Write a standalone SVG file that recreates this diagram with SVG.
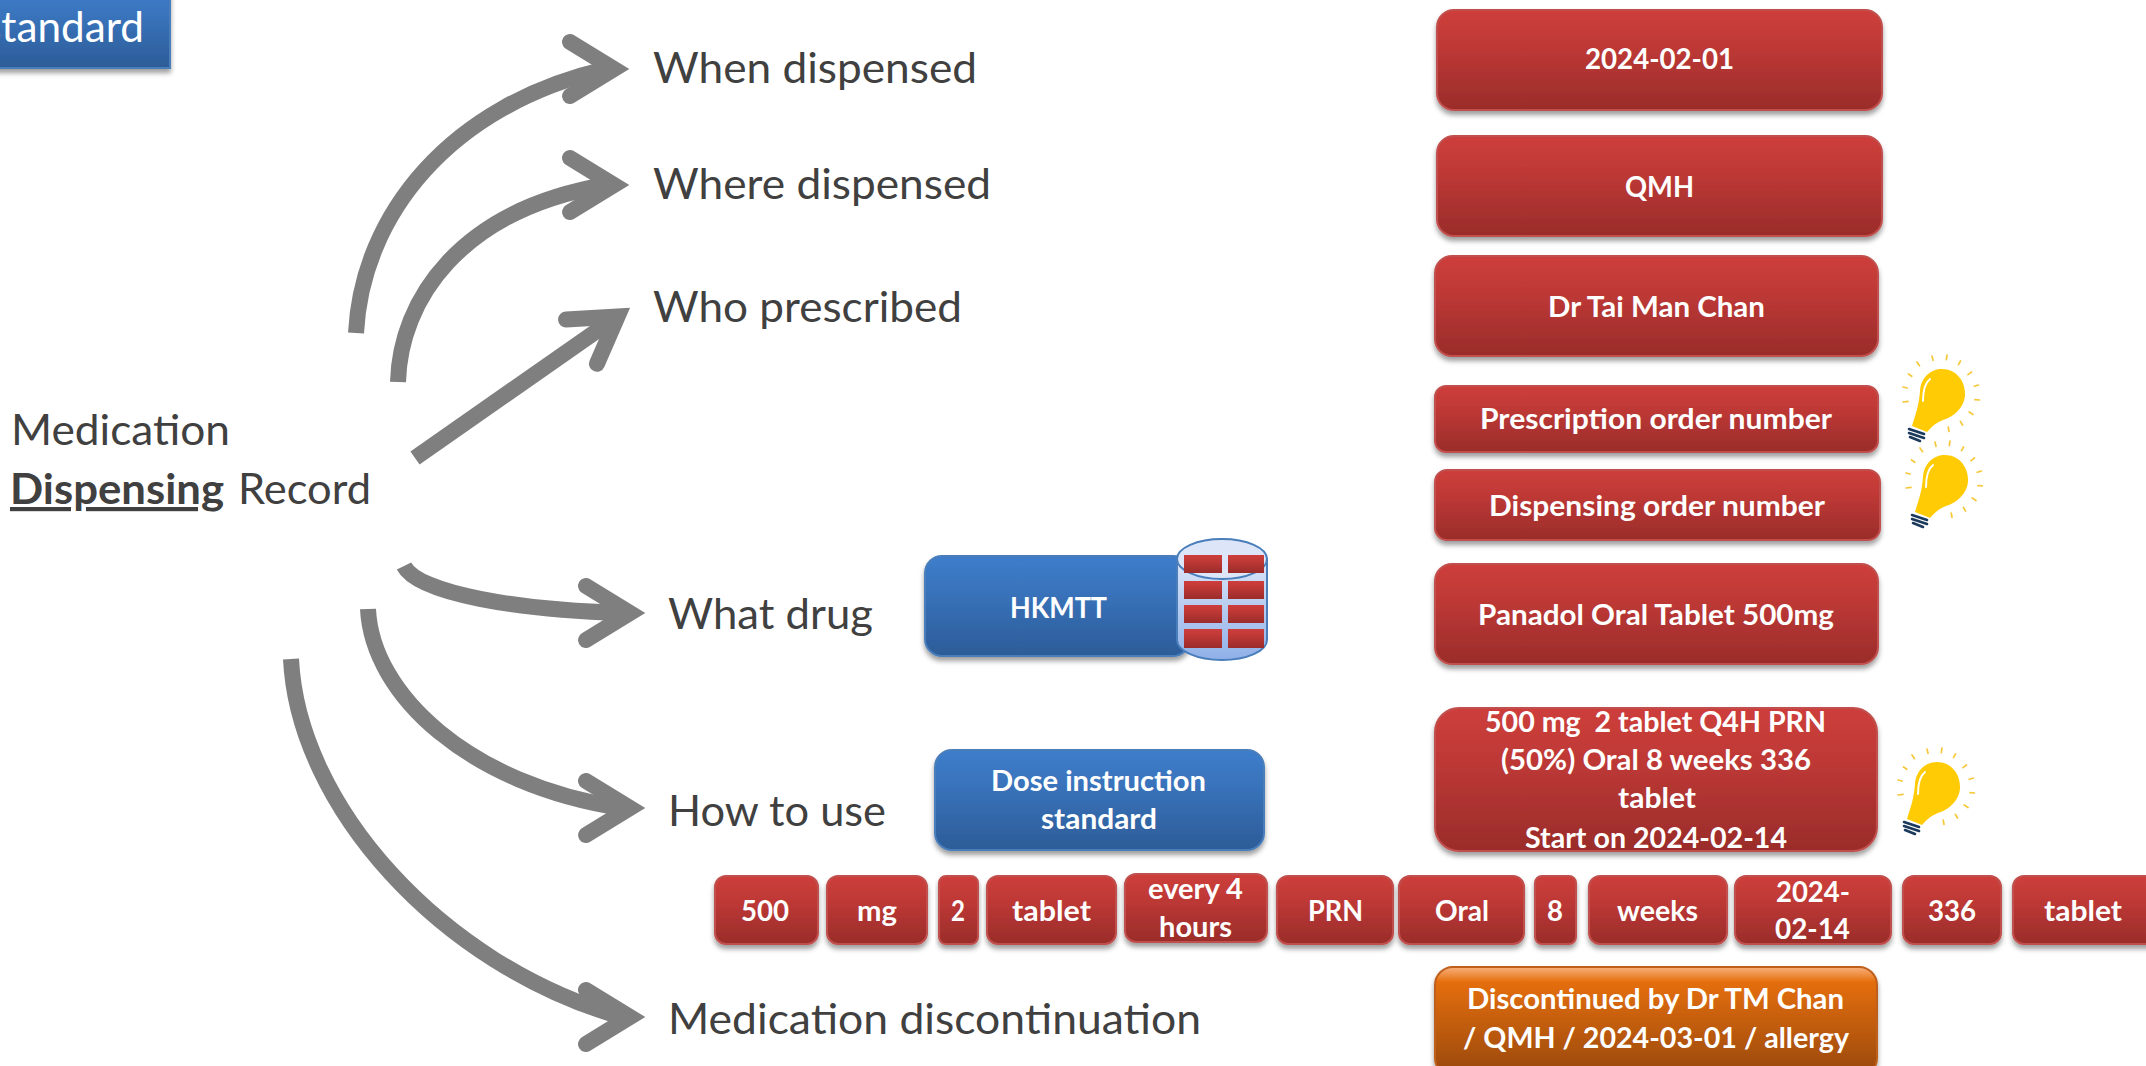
<svg xmlns="http://www.w3.org/2000/svg" xmlns:xlink="http://www.w3.org/1999/xlink" width="2146" height="1066" viewBox="0 0 2146 1066">
<style>
text{font-family:Lato,"Liberation Sans",sans-serif}
.l{font-size:42px;fill:#404040}
.b{font-size:28px;font-weight:700;fill:#fff}
.c{fill:none;stroke:#7f7f7f;stroke-width:16}
.red{fill:url(#gr);stroke:#c0504d;stroke-width:2;filter:url(#sh)}
.blue{fill:url(#gb);stroke:#4a7ebb;stroke-width:2;filter:url(#sh)}
.or{fill:url(#go);stroke:#be5f1c;stroke-width:2;filter:url(#sh)}
.brick{fill:url(#gr)}
</style>
<defs>
<linearGradient id="gr" x1="0" y1="0" x2="0" y2="1"><stop offset="0" stop-color="#cd3e3b"/><stop offset=".35" stop-color="#bf3936"/><stop offset="1" stop-color="#9a2c2a"/></linearGradient>
<linearGradient id="gb" x1="0" y1="0" x2="0" y2="1"><stop offset="0" stop-color="#3d7dcb"/><stop offset=".35" stop-color="#3973bb"/><stop offset="1" stop-color="#2c5c98"/></linearGradient>
<linearGradient id="go" x1="0" y1="0" x2="0" y2="1"><stop offset="0" stop-color="#f8b07c"/><stop offset=".14" stop-color="#e46e0a"/><stop offset="1" stop-color="#984807"/></linearGradient>
<linearGradient id="gc" x1="0" y1="0" x2="0" y2="1"><stop offset="0" stop-color="#dce6f8"/><stop offset="1" stop-color="#8fb0e8"/></linearGradient>
<filter id="sh" x="-10%" y="-10%" width="120%" height="130%"><feDropShadow dx="0" dy="4" stdDeviation="2.5" flood-color="#000" flood-opacity=".38"/></filter>
<marker id="ah" markerUnits="userSpaceOnUse" markerWidth="100" markerHeight="100" viewBox="-85 -50 100 100" refX="-24" refY="0" orient="0"><path d="M-60,-27L-16,0L-60,27" fill="none" stroke="#7f7f7f" stroke-width="16" stroke-linecap="round" stroke-miterlimit="10"/></marker>
<marker id="as" markerUnits="userSpaceOnUse" markerWidth="100" markerHeight="100" viewBox="-85 -50 100 100" refX="-24" refY="0" orient="auto"><path d="M-60,-27L-16,0L-60,27" fill="none" stroke="#7f7f7f" stroke-width="16" stroke-linecap="round" stroke-miterlimit="10"/></marker>
<g id="bulb">
<path d="M-30,28C-26,15-23,7-22,-7C-21,-21-11,-29 0,-29C14,-29 24,-17 23,-2C22,9 12,19 1,22C-5,24-10,28-15,34Z" fill="#ffcb05"/>
<path d="M-12,-19C-17,-15-19,-5-19,3" fill="none" stroke="#fff" stroke-width="2" stroke-linecap="round"/>
<path d="M-33,31L-18,36M-33,35L-18,40M-32,39L-22,43" fill="none" stroke="#1c3a5c" stroke-width="2.6" stroke-linecap="round"/>
<path d="M-22.500,-32.300L-25,-36M-9,-37.700L-10,-42M4.300,-38.300L5,-43M16.500,-33.300L18.500,-37M26,-23.300L29.500,-26M32.200,-11.700L36.500,-13M33,1.700L37.500,2M27.200,14L31,16.500M18.400,23.300L20.500,27M6.200,29L7,33.500M-30.200,-21.700L-33.500,-24M-34.800,-10L-39,-11M-34,3.300L-39,4" fill="none" stroke="#f6c83c" stroke-width="1.7" stroke-linecap="round"/>
</g>
</defs>
<rect width="2146" height="1066" fill="#fff"/>
<g id="connectors">
<path class="c" d="M356,333C362,215 450,105 606,69" marker-end="url(#ah)"/>
<path class="c" d="M398,382C400,300 460,210 606,185" marker-end="url(#ah)"/>
<path class="c" d="M415,458L611,321" marker-end="url(#as)"/>
<path class="c" d="M404,566C418,594 520,610 622,613" marker-end="url(#ah)"/>
<path class="c" d="M368,609C372,695 470,785 622,808" marker-end="url(#ah)"/>
<path class="c" d="M291,659C298,805 440,965 622,1017" marker-end="url(#ah)"/>
</g>
<g id="standard"><rect class="blue" x="-12" y="-12" width="182" height="80"/><text x="-17" y="42" font-size="42" fill="#fff" textLength="161" lengthAdjust="spacingAndGlyphs">standard</text></g>
<g id="subject"><text class="l" x="11" y="445" textLength="219" lengthAdjust="spacingAndGlyphs">Medication</text><text class="l" x="10" y="504" font-weight="700" text-decoration="underline" textLength="214" lengthAdjust="spacingAndGlyphs">Dispensing</text><text class="l" x="238" y="504" textLength="133" lengthAdjust="spacingAndGlyphs">Record</text></g>
<g id="label-when"><text class="l" x="653" y="83" textLength="324" lengthAdjust="spacingAndGlyphs">When dispensed</text></g>
<g id="label-where"><text class="l" x="653" y="199" textLength="338" lengthAdjust="spacingAndGlyphs">Where dispensed</text></g>
<g id="label-who"><text class="l" x="653" y="322" textLength="309" lengthAdjust="spacingAndGlyphs">Who prescribed</text></g>
<g id="label-what"><text class="l" x="668" y="629" textLength="205" lengthAdjust="spacingAndGlyphs">What drug</text></g>
<g id="label-how"><text class="l" x="668" y="826" textLength="218" lengthAdjust="spacingAndGlyphs">How to use</text></g>
<g id="label-disc"><text class="l" x="668" y="1034" textLength="533" lengthAdjust="spacingAndGlyphs">Medication discontinuation</text></g>

<g id="hkmtt"><rect class="blue" x="925" y="556" width="265" height="100" rx="17"/><text class="b" x="1010" y="618" textLength="97" lengthAdjust="spacingAndGlyphs">HKMTT</text>
<path d="M1177,559V640A45,20 0 0 0 1267,640V559Z" fill="url(#gc)" stroke="#4a7ebb" stroke-width="2"/><ellipse cx="1222" cy="559" rx="45" ry="20" fill="#dce6f8" stroke="#4a7ebb" stroke-width="2"/>
<rect class="brick" x="1184" y="555" width="38" height="18"/><rect class="brick" x="1228" y="555" width="36" height="18"/><rect class="brick" x="1184" y="581" width="38" height="18"/><rect class="brick" x="1228" y="581" width="36" height="18"/><rect class="brick" x="1184" y="605" width="38" height="18"/><rect class="brick" x="1228" y="605" width="36" height="18"/><rect class="brick" x="1184" y="629" width="38" height="19"/><rect class="brick" x="1228" y="629" width="36" height="19"/></g>
<g id="dose"><rect class="blue" x="935" y="750" width="329" height="100" rx="17"/><text class="b" x="991" y="791" textLength="215" lengthAdjust="spacingAndGlyphs">Dose instruction</text><text class="b" x="1041" y="829" textLength="116" lengthAdjust="spacingAndGlyphs">standard</text></g>

<g id="date"><rect class="red" x="1437" y="10" width="445" height="100" rx="17"/><text class="b" x="1585" y="69" textLength="149" lengthAdjust="spacingAndGlyphs">2024-02-01</text></g>
<g id="qmh"><rect class="red" x="1437" y="136" width="445" height="100" rx="17"/><text class="b" x="1625" y="197" textLength="69" lengthAdjust="spacingAndGlyphs">QMH</text></g>
<g id="doctor"><rect class="red" x="1435" y="256" width="443" height="100" rx="17"/><text class="b" x="1548" y="317" textLength="217" lengthAdjust="spacingAndGlyphs">Dr Tai Man Chan</text></g>
<g id="rx-number"><rect class="red" x="1435" y="386" width="443" height="66" rx="11"/><text class="b" x="1480" y="429" textLength="352" lengthAdjust="spacingAndGlyphs">Prescription order number</text></g>
<g id="disp-number"><rect class="red" x="1435" y="470" width="445" height="70" rx="12"/><text class="b" x="1489" y="516" textLength="336" lengthAdjust="spacingAndGlyphs">Dispensing order number</text></g>
<g id="drug"><rect class="red" x="1435" y="564" width="443" height="100" rx="17"/><text class="b" x="1478" y="625" textLength="356" lengthAdjust="spacingAndGlyphs">Panadol Oral Tablet 500mg</text></g>
<g id="instruction"><rect class="red" x="1435" y="708" width="442" height="143" rx="24"/><text class="b" x="1485" y="732" textLength="341" lengthAdjust="spacingAndGlyphs" xml:space="preserve">500 mg  2 tablet Q4H PRN</text><text class="b" x="1501" y="770" textLength="310" lengthAdjust="spacingAndGlyphs">(50%) Oral 8 weeks 336</text><text class="b" x="1618" y="808" textLength="78" lengthAdjust="spacingAndGlyphs">tablet</text><text class="b" x="1525" y="848" textLength="262" lengthAdjust="spacingAndGlyphs">Start on 2024-02-14</text></g>

<g id="t-500"><rect class="red" x="715" y="876" width="103" height="68" rx="11"/><text class="b" x="741" y="921" textLength="48" lengthAdjust="spacingAndGlyphs">500</text></g>
<g id="t-mg"><rect class="red" x="827" y="876" width="100" height="68" rx="11"/><text class="b" x="857" y="921" textLength="40" lengthAdjust="spacingAndGlyphs">mg</text></g>
<g id="t-2"><rect class="red" x="939" y="876" width="39" height="68" rx="7"/><text class="b" x="951" y="921" textLength="14" lengthAdjust="spacingAndGlyphs">2</text></g>
<g id="t-tablet"><rect class="red" x="987" y="876" width="129" height="68" rx="11"/><text class="b" x="1012" y="921" textLength="79" lengthAdjust="spacingAndGlyphs">tablet</text></g>
<g id="t-every"><rect class="red" x="1125" y="874" width="142" height="68" rx="11"/><text class="b" x="1148" y="899" textLength="95" lengthAdjust="spacingAndGlyphs">every 4</text><text class="b" x="1159" y="937" textLength="73" lengthAdjust="spacingAndGlyphs">hours</text></g>
<g id="t-prn"><rect class="red" x="1277" y="876" width="116" height="68" rx="11"/><text class="b" x="1308" y="921" textLength="55" lengthAdjust="spacingAndGlyphs">PRN</text></g>
<g id="t-oral"><rect class="red" x="1399" y="876" width="125" height="68" rx="11"/><text class="b" x="1435" y="921" textLength="54" lengthAdjust="spacingAndGlyphs">Oral</text></g>
<g id="t-8"><rect class="red" x="1535" y="876" width="41" height="68" rx="7"/><text class="b" x="1547" y="921" textLength="16" lengthAdjust="spacingAndGlyphs">8</text></g>
<g id="t-weeks"><rect class="red" x="1589" y="876" width="138" height="68" rx="11"/><text class="b" x="1617" y="921" textLength="81" lengthAdjust="spacingAndGlyphs">weeks</text></g>
<g id="t-date"><rect class="red" x="1735" y="876" width="156" height="68" rx="11"/><text class="b" x="1776" y="902" textLength="74" lengthAdjust="spacingAndGlyphs">2024-</text><text class="b" x="1775" y="939" textLength="75" lengthAdjust="spacingAndGlyphs">02-14</text></g>
<g id="t-336"><rect class="red" x="1903" y="876" width="98" height="68" rx="11"/><text class="b" x="1928" y="921" textLength="48" lengthAdjust="spacingAndGlyphs">336</text></g>
<g id="t-tablet2"><rect class="red" x="2013" y="876" width="150" height="68" rx="11"/><text class="b" x="2044" y="921" textLength="78" lengthAdjust="spacingAndGlyphs">tablet</text></g>

<g id="discontinued"><rect class="or" x="1435" y="967" width="442" height="109" rx="18"/><text class="b" x="1467" y="1009" textLength="377" lengthAdjust="spacingAndGlyphs">Discontinued by Dr TM Chan</text><text class="b" x="1463" y="1048" textLength="386" lengthAdjust="spacingAndGlyphs">/ QMH / 2024-03-01 / allergy</text></g>

<g id="bulb-1"><use xlink:href="#bulb" href="#bulb" x="1942" y="398"/></g>
<g id="bulb-2"><use xlink:href="#bulb" href="#bulb" x="1945" y="484"/></g>
<g id="bulb-3"><use xlink:href="#bulb" href="#bulb" x="1937" y="791"/></g>
</svg>
